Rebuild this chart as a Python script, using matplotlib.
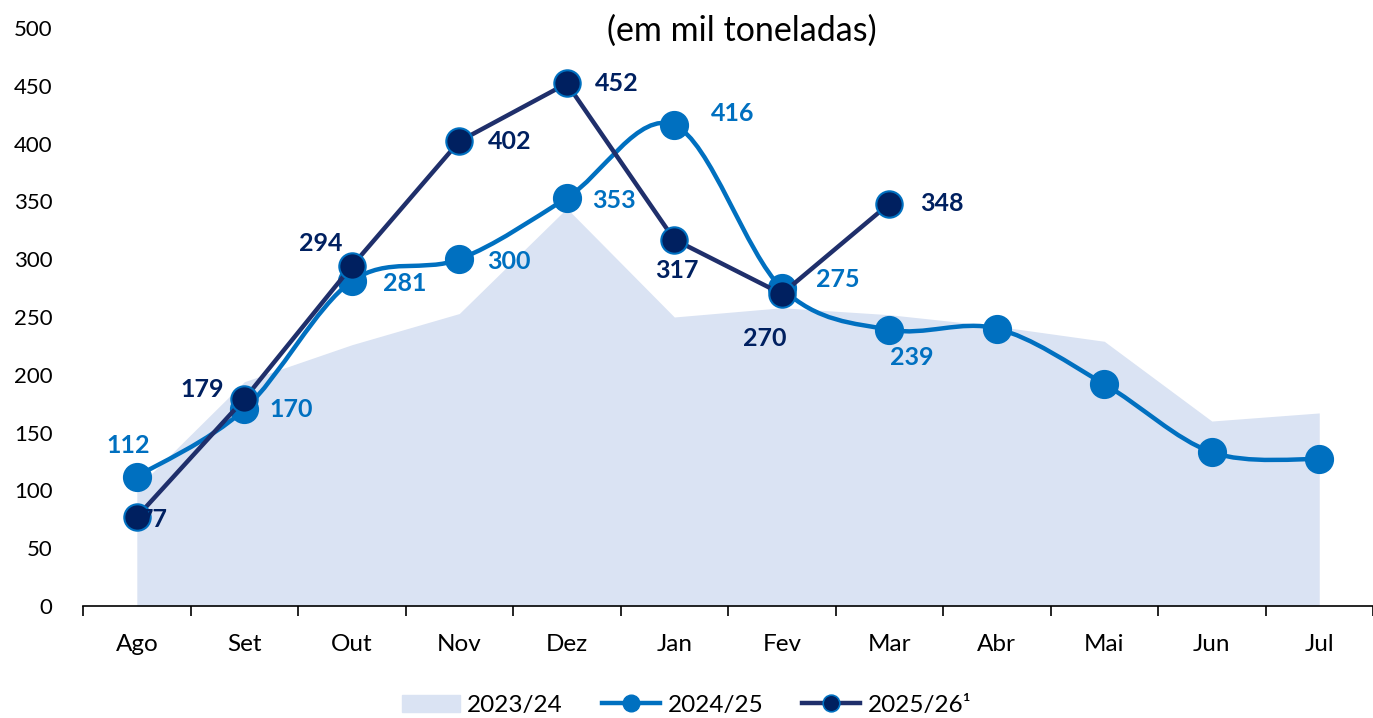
import matplotlib.pyplot as plt
import numpy as np
from matplotlib.path import Path
from matplotlib.patches import PathPatch, Patch
from matplotlib.lines import Line2D

plt.rcParams["font.family"] = ["Lato", "DejaVu Sans"]

months = ["Ago", "Set", "Out", "Nov", "Dez", "Jan", "Fev", "Mar", "Abr", "Mai", "Jun", "Jul"]
s2324 = [102, 194, 226, 253, 344, 250, 258, 252, 242, 229, 160, 167]
s2425 = [112, 170, 281, 300, 353, 416, 275, 239, 240, 192, 133, 127]
s2526 = [77, 179, 294, 402, 452, 317, 270, 348]

c_area = "#DAE3F3"
c_mid = "#0070C0"
c_dark = "#002060"
c_dark_line = "#1F2F6B"

# label offsets in points (dx, dy); None = no label
off_2425 = [(-6, 22), (34, 0), (38, -2), (36, -2), (34, -2), (42, 8), (40, 6), (16, -20),
            None, None, None, None]
off_2526 = [(12, -2), (-30, 7), (-22, 16), (36, 0), (36, 0), (2, -22), (-12, -32), (38, 0)]


def smooth_path(x, y):
    # Excel-style smoothed line: cubic Bezier through the points
    pts = np.column_stack([x, y]).astype(float)
    n = len(pts)
    verts = [pts[0]]
    codes = [Path.MOVETO]
    for i in range(n - 1):
        p0 = pts[max(i - 1, 0)]
        p1 = pts[i]
        p2 = pts[i + 1]
        p3 = pts[min(i + 2, n - 1)]
        verts += [p1 + (p2 - p0) / 6, p2 - (p3 - p1) / 6, p2]
        codes += [Path.CURVE4] * 3
    return Path(verts, codes)


fig = plt.figure(figsize=(13.73, 7.18), dpi=100)
ax = fig.add_axes([0.0605, 0.156, 0.9395, 0.805])

x = np.arange(len(months))
ax.fill_between(x, s2324, 0, color=c_area, lw=0, zorder=1)

ax.add_patch(PathPatch(smooth_path(x, s2425), fill=False, ec=c_mid, lw=3.2, zorder=2,
                       capstyle="round"))
ax.plot(x, s2425, ls="none", marker="o", ms=20, color=c_mid, zorder=3)

x2 = np.arange(len(s2526))
ax.plot(x2, s2526, color=c_dark_line, lw=3.2, zorder=4)
ax.plot(x2, s2526, ls="none", marker="o", ms=19, mfc=c_dark, mec=c_mid, mew=1.5, zorder=5)

for xi, v, o in zip(x, s2425, off_2425):
    if o is None:
        continue
    ax.annotate(str(v), (xi, v), xytext=o, textcoords="offset points", ha="center",
                va="center", fontsize=18, fontweight="bold", color=c_mid, zorder=6)
for xi, v, o in zip(x2, s2526, off_2526):
    ax.annotate(str(v), (xi, v), xytext=o, textcoords="offset points", ha="center",
                va="center", fontsize=18, fontweight="bold", color=c_dark, zorder=6)

ax.set_ylim(0, 500)
ax.set_xlim(-0.5, 11.43)
ax.set_yticks(np.arange(0, 501, 50))
ax.tick_params(axis="y", length=0, labelsize=16, pad=22)
ax.set_xticks(x)
ax.set_xticklabels(months)
ax.set_xticks(np.arange(-0.5, 12, 1), minor=True)
ax.tick_params(axis="x", which="major", length=0, labelsize=17.5, pad=20)
ax.tick_params(axis="x", which="minor", length=7, width=1.2, direction="out")
for s in ["left", "right", "top"]:
    ax.spines[s].set_visible(False)
ax.spines["bottom"].set_linewidth(1.2)

fig.text(0.54, 0.957, "(em mil toneladas)", ha="center", va="center", fontsize=24.5)

handles = [
    Patch(color=c_area, label="2023/24"),
    Line2D([], [], color=c_mid, lw=3.2, marker="o", ms=12, label="2024/25"),
    Line2D([], [], color=c_dark_line, lw=3.2, marker="o", ms=12, mfc=c_dark, mec=c_mid,
           mew=1.2, label="2025/26¹"),
]
fig.legend(handles=handles, loc="center", bbox_to_anchor=(0.5, 0.018), ncol=3,
           frameon=False, fontsize=17.5, handlelength=2.4, columnspacing=1.6,
           handletextpad=0.3)

fig.savefig("out.png", dpi=100)
